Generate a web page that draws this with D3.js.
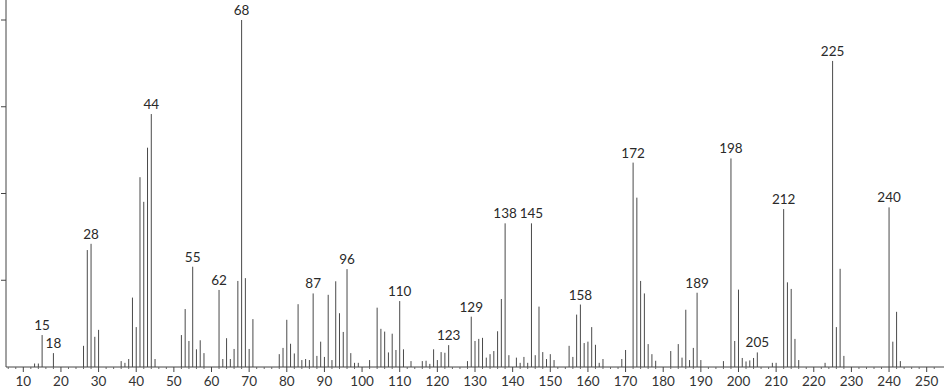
<!DOCTYPE html>
<html>
<head>
<meta charset="utf-8">
<script src="https://cdn.jsdelivr.net/npm/d3@7"></script>
<style>
  body { margin: 0; background: #fff; }
  svg { display: block; }
  text { font-family: "Lato", "DejaVu Sans", sans-serif; }
</style>
</head>
<body>
<div id="chart"></div>
<script>
// m/z values and relative intensities (base peak 68 = 100)
var mz = [13, 14, 15, 18, 26, 27, 28, 29, 30, 36, 37, 38, 39, 40, 41, 42, 43, 44, 45,
  52, 53, 54, 55, 56, 57, 58, 62, 63, 64, 65, 66, 67, 68, 69, 70, 71,
  78, 79, 80, 81, 82, 83, 84, 85, 86, 87, 88, 89, 90, 91, 92, 93, 94, 95, 96, 97, 98, 99,
  102, 104, 105, 106, 107, 108, 109, 110, 111, 113, 116, 117, 118, 119, 120, 121, 122, 123,
  128, 129, 130, 131, 132, 133, 134, 135, 136, 137, 138, 139, 141, 142, 143, 144, 145, 146,
  147, 148, 149, 150, 151, 155, 156, 157, 158, 159, 160, 161, 162, 163, 164, 169, 170,
  172, 173, 174, 175, 176, 177, 178, 182, 184, 185, 186, 187, 188, 189, 190, 196, 198,
  199, 200, 201, 202, 203, 204, 205, 209, 210, 212, 213, 214, 215, 216, 223, 225, 226,
  227, 228, 240, 241, 242, 243];
var intensity = [1.0, 1.0, 9.2, 4.0, 6.1, 33.7, 35.5, 8.7, 10.7, 1.7, 1.2, 2.3, 20.0, 11.5, 54.7, 47.6, 63.2, 72.9, 2.3,
  9.2, 16.7, 7.5, 28.9, 5.1, 7.7, 4.0, 22.2, 2.3, 8.3, 2.3, 5.2, 24.8, 100, 25.6, 5.2, 13.8,
  3.7, 5.5, 13.6, 6.7, 3.9, 18.1, 2.0, 2.3, 2.0, 21.2, 3.2, 7.3, 2.9, 20.8, 2.0, 24.7, 15.5, 10.1, 28.2, 4.0, 1.2, 1.2,
  2.0, 17.1, 11.0, 10.2, 4.2, 9.6, 4.9, 19.0, 5.1, 1.7, 1.7, 1.8, 0.9, 5.1, 2.0, 4.3, 4.1, 6.3,
  1.7, 14.5, 7.5, 8.1, 8.4, 2.7, 3.7, 4.6, 10.3, 19.6, 41.4, 3.4, 2.7, 1.2, 2.9, 1.2, 41.4, 3.4,
  17.4, 4.3, 2.3, 3.7, 2.0, 6.1, 2.9, 15.1, 18.0, 6.9, 7.3, 11.5, 6.4, 1.2, 2.3, 2.3, 4.9,
  58.9, 48.8, 24.8, 21.2, 6.6, 3.7, 1.8, 4.6, 6.6, 2.7, 16.5, 2.0, 5.5, 21.4, 2.0, 1.7, 60.1,
  7.5, 22.3, 2.6, 1.6, 1.9, 2.6, 4.2, 1.2, 1.2, 45.5, 24.4, 22.5, 8.1, 2.0, 1.2, 88.2, 11.5,
  28.3, 3.2, 46.0, 7.3, 15.9, 1.7];
// peaks that carry a label
var labelled = [15, 18, 28, 44, 55, 62, 68, 87, 96, 110, 123, 129, 138, 145, 158, 172, 189, 198, 205, 212, 225, 240];
var yTicks = [25, 50, 75, 100];

var data = mz.map(function(m, i) { return { mz: m, v: intensity[i] }; });

var width = 944, height = 389;
var baseY = 367;

var svg = d3.select("#chart").append("svg")
    .attr("width", width)
    .attr("height", height);

var x = d3.scaleLinear().domain([10, 250]).range([23.3, 926.7]);
var y = d3.scaleLinear().domain([0, 100]).range([baseY, 20]);

// sticks
svg.append("g").selectAll("line")
  .data(data)
  .enter().append("line")
    .attr("x1", function(d) { return x(d.mz); })
    .attr("x2", function(d) { return x(d.mz); })
    .attr("y1", baseY)
    .attr("y2", function(d) { return y(d.v); })
    .style("stroke", "#4a4a4a")
    .style("stroke-width", "1px");

// peak labels
svg.append("g").selectAll("text")
  .data(data.filter(function(d) { return labelled.indexOf(d.mz) >= 0; }))
  .enter().append("text")
    .attr("x", function(d) { return x(d.mz); })
    .attr("y", function(d) { return y(d.v) - 5; })
    .attr("text-anchor", "middle")
    .style("font-size", "13.5px")
    .style("fill", "#2a2a2a")
    .text(function(d) { return d.mz; });

// x axis: line, minor ticks every 2, major every 10
var xa = svg.append("g");
xa.append("line")
  .attr("x1", 6).attr("x2", width)
  .attr("y1", baseY).attr("y2", baseY)
  .style("stroke", "#444");
xa.selectAll("line.minor")
  .data(d3.range(6, 254, 2).filter(function(v) { return v % 10 != 0; }))
  .enter().append("line")
    .attr("class", "minor")
    .attr("x1", function(d) { return x(d); })
    .attr("x2", function(d) { return x(d); })
    .attr("y1", baseY).attr("y2", baseY + 2)
    .style("stroke", "#666");
xa.selectAll("line.major")
  .data(d3.range(10, 251, 10))
  .enter().append("line")
    .attr("class", "major")
    .attr("x1", function(d) { return x(d); })
    .attr("x2", function(d) { return x(d); })
    .attr("y1", baseY).attr("y2", baseY + 5)
    .style("stroke", "#444");
xa.selectAll("text")
  .data(d3.range(10, 251, 10))
  .enter().append("text")
    .attr("x", function(d) { return x(d); })
    .attr("y", 386)
    .attr("text-anchor", "middle")
    .style("font-size", "13.5px")
    .style("fill", "#333")
    .text(function(d) { return d; });

// y axis without labels
var ya = svg.append("g");
ya.append("line")
  .attr("x1", 6).attr("x2", 6)
  .attr("y1", 0).attr("y2", baseY)
  .style("stroke", "#444");
ya.selectAll("line.tick")
  .data(yTicks)
  .enter().append("line")
    .attr("class", "tick")
    .attr("x1", 1).attr("x2", 6)
    .attr("y1", function(d) { return y(d); })
    .attr("y2", function(d) { return y(d); })
    .style("stroke", "#444");
</script>
</body>
</html>
